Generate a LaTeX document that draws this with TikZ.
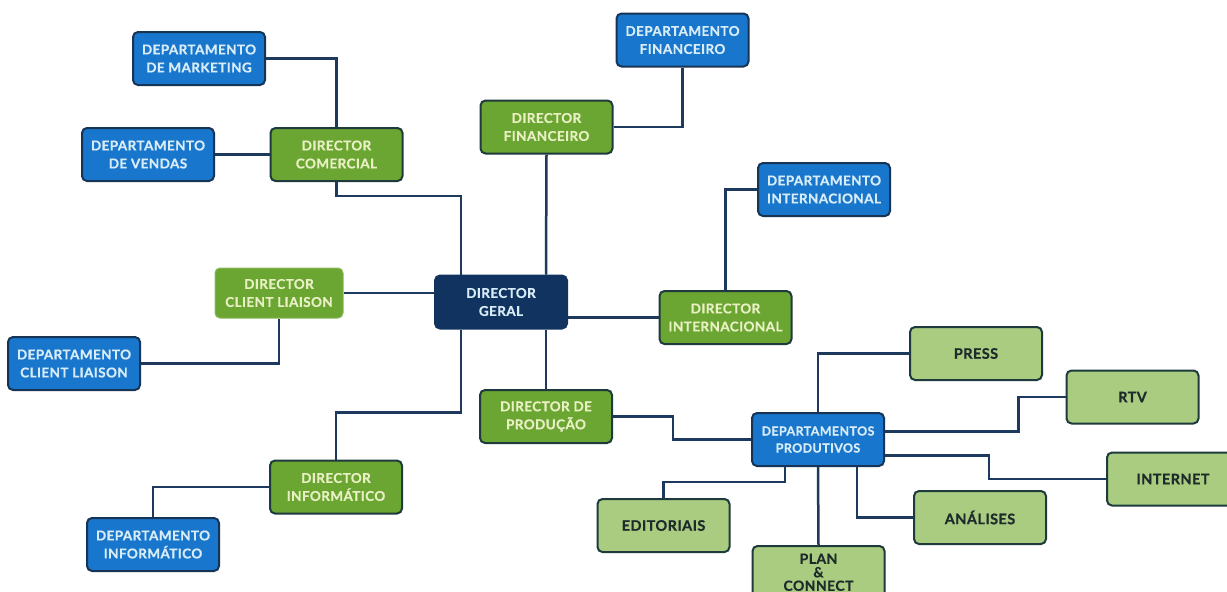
\documentclass[tikz,border=0pt]{standalone}
\usepackage{fontspec}
\setmainfont{Lato}[LetterSpace=3, BoldFeatures={FakeBold=0.6}]
\usetikzlibrary{backgrounds}
\definecolor{lineblue}{HTML}{1D3A5E}
\definecolor{deptblue}{HTML}{1877CC}
\definecolor{deptborder}{HTML}{173455}
\definecolor{dirgreen}{HTML}{6BA532}
\definecolor{dirborder}{HTML}{1E3A3C}
\definecolor{ltgreen}{HTML}{A9CC80}
\definecolor{geralblue}{HTML}{10345F}
\definecolor{greentext}{HTML}{E8F0C4}
\definecolor{bluetext}{HTML}{D8ECF8}
\definecolor{darktext}{HTML}{1E2B2B}
\begin{document}
\begin{tikzpicture}[x=1pt,y=-1pt,
  box/.style={rounded corners=5pt, line width=2pt, minimum width=132pt, minimum height=53pt,
    align=center, font=\bfseries\fontsize{13.5}{18}\selectfont, inner sep=2pt},
  dept/.style={box, fill=deptblue, draw=deptborder, text=bluetext},
  dir/.style={box, fill=dirgreen, draw=dirborder, text=greentext},
  sub/.style={box, fill=ltgreen, draw=dirborder, text=darktext, font=\bfseries\fontsize{14.5}{18}\selectfont},
  conn/.style={draw=lineblue, line width=2.5pt}]
\clip (0,0) rectangle (1227,592);

% nodes
\node[dept] (mkt) at (199,58.5) {DEPARTAMENTO\\DE MARKETING};
\node[dir] (com) at (336.5,154.5) {DIRECTOR\\COMERCIAL};
\node[dept] (ven) at (148,154.5) {DEPARTAMENTO\\DE VENDAS};
\node[dept] (depfin) at (682.5,40) {DEPARTAMENTO\\FINANCEIRO};
\node[dir] (fin) at (546.5,127) {DIRECTOR\\FINANCEIRO};
\node[dept] (depint) at (824,189.5) {DEPARTAMENTO\\INTERNACIONAL};
\node[box, fill=geralblue, draw=geralblue, text=bluetext] (geral) at (501,302) {DIRECTOR\\GERAL};
\node[dir] (int) at (725.5,317.5) {DIRECTOR\\INTERNACIONAL};
\node[dir, draw=dirgreen!80!white, line width=1pt, minimum width=128pt, minimum height=50pt] (cl) at (279,293) {DIRECTOR\\CLIENT LIAISON};
\node[dept] (depcl) at (74,363.5) {DEPARTAMENTO\\CLIENT LIAISON};
\node[dir] (prod) at (546,416.5) {DIRECTOR DE\\PRODUÇÃO};
\node[dir] (inf) at (336,487) {DIRECTOR\\INFORMÁTICO};
\node[dept] (depinf) at (153,544.5) {DEPARTAMENTO\\INFORMÁTICO};
\node[dept, font=\bfseries\fontsize{12.5}{17}\selectfont] (prodt) at (818,439.5) {DEPARTAMENTOS\\PRODUTIVOS};
\node[sub] (press) at (976,353.5) {PRESS};
\node[sub] (rtv) at (1132.5,397) {RTV};
\node[sub] (inet) at (1173,479) {INTERNET};
\node[sub] (anal) at (980,517.5) {ANÁLISES};
\node[sub] (edit) at (663.5,525.5) {EDITORIAIS};
\node[sub, minimum height=70pt, anchor=north, font=\bfseries\fontsize{14}{13.5}\selectfont, inner sep=6pt] (plan) at (818.5,545) {PLAN\\\&\\CONNECT\\\strut};

% connectors
\begin{scope}[on background layer]
\fill[white] (0,0) rectangle (1227,592);
\path[conn] (mkt.east) -| (com.north);
\path[conn] (ven.east) -- (com.west);
\path[conn] (com.south) -- ++(0,14) -| ([xshift=-40]geral.north);
\path[conn] (fin.south) -- ([xshift=45]geral.north);
\path[conn] (depfin.south) |- (fin.east);
\path[conn] (depint.west) -| (int.north);
\path[conn] (int.west) -- (int.west -| geral.east);
\path[conn] (cl.east) -- (cl.east -| geral.west);
\path[conn] (cl.south) |- (depcl.east);
\path[conn] ([xshift=-40]geral.south) -- ++(0,83) -| (inf.north);
\path[conn] (prod.north) -- (prod.north |- geral.south);
\path[conn] (prod.east) -- ++(60,0) |- (prodt.west);
\path[conn] (inf.west) -| (depinf.north);
\path[conn] (prodt.north) |- (press.west);
\path[conn] ([yshift=8]prodt.east) -| ([xshift=-47]rtv.west) -- (rtv.west);
\path[conn] ([yshift=-16]prodt.east) -| ([xshift=-117]inet.west) -- (inet.west);
\path[conn] ([xshift=39]prodt.south) |- (anal.west);
\path[conn] (prodt.south) -- (plan.north);
\path[conn] ([xshift=-33]prodt.south) -- ++(0,15) -| (edit.north);
\end{scope}
\end{tikzpicture}
\end{document}
